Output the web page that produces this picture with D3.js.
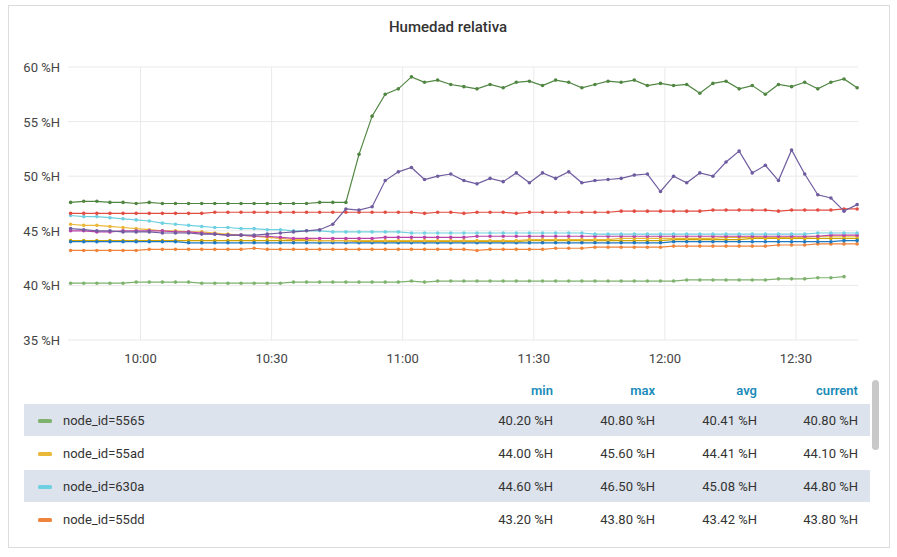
<!DOCTYPE html>
<html><head><meta charset="utf-8">
<script src="https://cdn.jsdelivr.net/npm/d3@7"></script>
<style>body{margin:0;background:#fff;font-family:Roboto,"Open Sans",sans-serif}</style>
</head><body><svg id="c" width="897" height="557"></svg>
<script>
// time grid: every 3 minutes from 09:44 to 12:44 (minutes since midnight)
const times = d3.range(584, 765, 3);
const sDarkGreen = [47.6,47.7,47.7,47.6,47.6,47.5,47.6,47.5,47.5,47.5,47.5,47.5,47.5,47.5,47.5,47.5,47.5,47.5,47.5,47.6,47.6,47.6,
 52.0,55.5,57.5,58.0,59.1,58.6,58.8,58.4,58.2,58.0,58.4,58.1,58.6,58.7,58.3,58.8,58.6,58.1,58.4,58.7,58.6,58.8,58.3,58.5,
 58.3,58.4,57.6,58.5,58.7,58.0,58.3,57.5,58.4,58.2,58.6,58.0,58.6,58.9,58.1];
const sPurple = [45.2,45.1,45.0,45.0,44.9,44.9,44.9,44.8,44.8,44.8,44.7,44.7,44.6,44.6,44.6,44.7,44.8,44.9,45.0,45.1,45.6,
 47.0,46.9,47.2,49.6,50.4,50.8,49.7,50.0,50.2,49.6,49.3,49.8,49.5,50.3,49.4,50.3,49.8,50.4,49.4,49.6,49.7,49.8,50.1,50.2,48.6,
 50.0,49.4,50.3,50.0,51.3,52.3,50.3,51.0,49.6,52.4,50.2,48.3,48.0,46.8,47.4];
const sRed = [46.6,46.6,46.6,46.6,46.6,46.6,46.6,46.6,46.6,46.6,46.6,46.7,46.7,46.7,46.7,46.7,46.7,46.7,46.7,46.7,46.7,
 46.7,46.7,46.7,46.7,46.7,46.7,46.6,46.7,46.7,46.6,46.7,46.7,46.7,46.6,46.7,46.7,46.7,46.7,46.7,46.7,46.7,46.8,46.8,46.8,46.8,
 46.8,46.8,46.8,46.9,46.9,46.9,46.9,46.9,46.8,46.9,46.9,46.9,46.9,47.0,47.0];
const sLightGreen = [40.2,40.2,40.2,40.2,40.2,40.3,40.3,40.3,40.3,40.3,40.2,40.2,40.2,40.2,40.2,40.2,40.2,40.3,40.3,40.3,40.3,
 40.3,40.3,40.3,40.3,40.3,40.4,40.3,40.4,40.4,40.4,40.4,40.4,40.4,40.4,40.4,40.4,40.4,40.4,40.4,40.4,40.4,40.4,40.4,40.4,40.4,
 40.4,40.5,40.5,40.5,40.5,40.5,40.5,40.5,40.6,40.6,40.6,40.7,40.7,40.8,null];
const sLightBlue = [46.4,46.3,46.3,46.2,46.1,46.0,45.9,45.7,45.6,45.5,45.4,45.3,45.3,45.2,45.2,45.1,45.1,45.0,45.0,45.0,44.9,
 44.9,44.9,44.9,44.9,44.9,44.8,44.8,44.8,44.8,44.8,44.8,44.8,44.8,44.8,44.8,44.8,44.8,44.8,44.8,44.7,44.7,44.7,44.7,44.7,44.7,
 44.7,44.7,44.7,44.7,44.7,44.7,44.7,44.7,44.7,44.7,44.7,44.8,44.8,44.8,44.8];
const sYellow = [45.6,45.5,45.5,45.4,45.3,45.2,45.1,45.0,45.0,44.9,44.9,44.8,44.7,44.6,44.5,44.4,44.3,44.2,44.2,44.1,44.1,
 44.1,44.1,44.1,44.1,44.1,44.1,44.1,44.1,44.1,44.1,44.1,44.1,44.1,44.1,44.2,44.2,44.2,44.2,44.2,44.2,44.2,44.3,44.3,44.3,44.3,
 44.3,44.3,44.3,44.3,44.4,44.4,44.4,44.4,44.4,44.4,44.4,44.5,44.5,44.5,44.5];
const sOrange = [43.2,43.2,43.2,43.2,43.2,43.2,43.3,43.3,43.3,43.3,43.3,43.3,43.3,43.3,43.4,43.3,43.3,43.3,43.3,43.3,43.3,
 43.3,43.3,43.3,43.3,43.3,43.3,43.3,43.3,43.3,43.3,43.2,43.3,43.3,43.3,43.3,43.3,43.4,43.4,43.4,43.5,43.5,43.5,43.5,43.5,43.5,
 43.6,43.6,43.6,43.6,43.6,43.6,43.6,43.6,43.7,43.7,43.7,43.8,43.8,43.8,43.8];
const sMagenta = [45.0,45.0,44.9,44.9,45.0,45.0,45.0,45.0,44.9,44.9,44.8,44.7,44.6,44.6,44.5,44.5,44.4,44.3,44.3,44.3,44.3,
 44.3,44.3,44.3,44.4,44.4,44.4,44.4,44.4,44.4,44.4,44.5,44.5,44.5,44.5,44.5,44.5,44.5,44.5,44.5,44.5,44.5,44.5,44.5,44.5,44.5,
 44.5,44.5,44.5,44.5,44.5,44.5,44.5,44.5,44.5,44.5,44.5,44.5,44.6,44.6,44.6];
const sBlue = [44.0,44.0,44.0,44.0,44.0,44.0,44.0,44.0,44.0,43.9,43.9,43.9,43.9,43.9,43.9,43.9,43.9,43.9,43.9,43.9,43.9,
 43.9,43.9,43.9,43.9,43.9,43.9,43.9,43.9,43.9,43.9,43.9,43.9,43.9,43.9,43.9,43.9,43.9,43.9,43.9,43.9,43.9,43.9,43.9,43.9,43.9,
 44.0,44.0,44.0,44.0,44.0,44.0,44.0,44.0,44.0,44.0,44.0,44.0,44.0,44.1,44.1];
const sOlive = [44.1,44.1,44.1,44.1,44.1,44.1,44.1,44.1,44.1,44.1,44.1,44.1,44.1,44.1,44.1,44.1,44.1,44.1,44.1,44.1,44.1,
 44.1,44.0,44.0,44.0,44.0,44.0,44.0,44.0,44.0,44.0,44.0,44.0,44.0,44.0,44.1,44.1,44.1,44.1,44.1,44.1,44.1,44.1,44.1,44.1,44.1,
 44.2,44.2,44.2,44.2,44.2,44.2,44.3,44.3,44.3,44.3,44.3,44.3,44.3,44.3,44.3];

const seriesNames = ["5565","55ad","630a","55dd","red","blue","magenta","purple","darkgreen","olive"];
const seriesData = [sLightGreen,sYellow,sLightBlue,sOrange,sRed,sBlue,sMagenta,sPurple,sDarkGreen,sOlive];
const seriesColors = ["#7EB26D","#EAB839","#6ED0E0","#EF843C","#E24D42","#1F78C1","#BA43A9","#705DA0","#508642","#CCA300"];
const drawOrder = [0,3,9,5,1,6,2,4,7,8];

const yTicks = [35,40,45,50,55,60];
const xTickMinutes = [600,630,660,690,720,750];
const xTickLabels = ["10:00","10:30","11:00","11:30","12:00","12:30"];

const legendNames = ["node_id=5565","node_id=55ad","node_id=630a","node_id=55dd"];
const legendMin = ["40.20 %H","44.00 %H","44.60 %H","43.20 %H"];
const legendMax = ["40.80 %H","45.60 %H","46.50 %H","43.80 %H"];
const legendAvg = ["40.41 %H","44.41 %H","45.08 %H","43.42 %H"];
const legendCur = ["40.80 %H","44.10 %H","44.80 %H","43.80 %H"];
const legendHeaders = ["min","max","avg","current"];

const svg = d3.select("#c");
svg.append("rect").attr("x",8.5).attr("y",5.5).attr("width",881).attr("height",542).attr("fill","#fff").attr("stroke","#dcdcdc");
svg.append("text").attr("x",448).attr("y",32).attr("text-anchor","middle").attr("font-size",15).attr("font-weight",500).attr("fill","#333").text("Humedad relativa");

const x = d3.scaleLinear().domain([583.4,764.2]).range([68,858]);
const y = d3.scaleLinear().domain([35,60]).range([340,67]);

const g = svg.append("g");
g.selectAll(".hg").data(yTicks).join("line").attr("x1",68).attr("x2",858).attr("y1",d=>y(d)).attr("y2",d=>y(d)).attr("stroke","#e9e9e9");
g.selectAll(".vg").data(xTickMinutes).join("line").attr("x1",d=>x(d)).attr("x2",d=>x(d)).attr("y1",67).attr("y2",340).attr("stroke","#e9e9e9");
g.selectAll(".yl").data(yTicks).join("text").attr("x",60).attr("y",d=>y(d)+5).attr("text-anchor","end").attr("font-size",13).attr("fill","#444").text(d=>d+" %H");
g.selectAll(".xl").data(xTickMinutes).join("text").attr("x",d=>x(d)).attr("y",363).attr("text-anchor","middle").attr("font-size",13).attr("fill","#444").text((d,i)=>xTickLabels[i]);

const line = d3.line().defined(d=>d[1]!=null).x(d=>x(d[0])).y(d=>y(d[1]));
drawOrder.forEach(i=>{
  const pts = times.map((t,j)=>[t,seriesData[i][j]]);
  g.append("path").attr("d",line(pts)).attr("fill","none").attr("stroke",seriesColors[i]).attr("stroke-width",1.2);
  g.append("g").selectAll("circle").data(pts.filter(p=>p[1]!=null)).join("circle")
    .attr("cx",p=>x(p[0])).attr("cy",p=>y(p[1])).attr("r",1.8).attr("fill",seriesColors[i]);
});

// legend
const L = svg.append("g");
const colX = [553,655,757,858];
L.selectAll(".hd").data(legendHeaders).join("text").attr("x",(d,i)=>colX[i]).attr("y",395).attr("text-anchor","end")
  .attr("font-size",13).attr("font-weight",600).attr("fill","#1a8bb8").text(d=>d);
legendNames.forEach((n,i)=>{
  const ry = 404 + i*33;
  if(i%2===0) L.append("rect").attr("x",24).attr("y",ry).attr("width",846).attr("height",32).attr("fill","#dde3ec");
  L.append("rect").attr("x",38).attr("y",ry+15).attr("width",14).attr("height",4).attr("rx",1.5).attr("fill",seriesColors[i]);
  L.append("text").attr("x",63).attr("y",ry+21).attr("font-size",13).attr("fill","#333").text(n);
  [legendMin[i],legendMax[i],legendAvg[i],legendCur[i]].forEach((v,k)=>{
    L.append("text").attr("x",colX[k]).attr("y",ry+21).attr("text-anchor","end").attr("font-size",13).attr("fill","#333").text(v);
  });
});
L.append("rect").attr("x",872).attr("y",380).attr("width",7).attr("height",70).attr("rx",3.5).attr("fill","#c8c8c8");
</script></body></html>
